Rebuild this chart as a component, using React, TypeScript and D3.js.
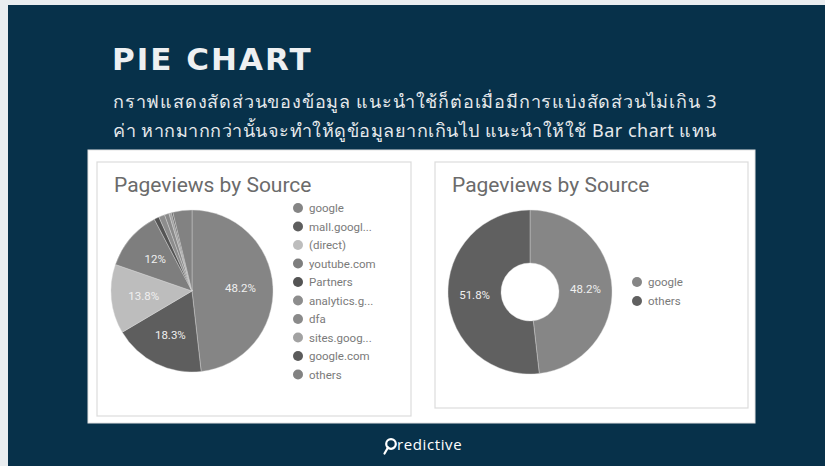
import * as d3 from "d3";

// left pie: all sources
const sources = [
  "google", "mall.googl...", "(direct)", "youtube.com", "Partners",
  "analytics.g...", "dfa", "sites.goog...", "google.com", "others",
];
const sourceShare = [48.2, 18.3, 13.8, 12, 1.0, 1.2, 0.9, 0.5, 0.3, 3.8];
const sourceColors = [
  "#858585", "#5e5e5e", "#bdbdbd", "#7e7e7e", "#545454",
  "#8d8d8d", "#8a8a8a", "#a2a2a2", "#5b5b5b", "#828282",
];

// right donut: google vs the rest
const groups = ["google", "others"];
const groupShare = [48.2, 51.8];
const groupColors = ["#868686", "#606060"];

const titleLines = [
  "กราฟแสดงสัดส่วนของข้อมูล แนะนำใช้ก็ต่อเมื่อมีการแบ่งสัดส่วนไม่เกิน 3",
  "ค่า หากมากกว่านั้นจะทำให้ดูข้อมูลยากเกินไป แนะนำให้ใช้ Bar chart แทน",
];

const W = 825;
const H = 466;
const cardFont = "Roboto, 'Noto Sans', sans-serif";

type Slice = { name: string; value: number; color: string };

function PieCard(props: {
  x: number; y: number; w: number; h: number;
  cx: number; cy: number; r: number; inner: number;
  slices: Slice[]; labelMin: number;
  legendX: number; legendY: number; legendStep: number;
}) {
  const { x, y, w, h, cx, cy, r, inner, slices, labelMin, legendX, legendY, legendStep } = props;
  const pie = d3.pie<Slice>().sort(null).value(d => d.value).startAngle(0).endAngle(2 * Math.PI);
  const arcs = pie(slices);
  const arc = d3.arc<d3.PieArcDatum<Slice>>().innerRadius(inner).outerRadius(r);
  const labelArc = d3.arc<d3.PieArcDatum<Slice>>()
    .innerRadius(inner > 0 ? (inner + r) / 2 : r * 0.6)
    .outerRadius(inner > 0 ? (inner + r) / 2 : r * 0.6);
  const fmt = (v: number) => `${v}%`;

  return (
    <g>
      <rect x={x} y={y} width={w} height={h} fill="#fff" stroke="#dcdcdc" strokeWidth={1.2} />
      <text x={x + 17} y={y + 30} fontFamily={cardFont} fontSize={21} fill="#6b6b6b">
        Pageviews by Source
      </text>
      <g transform={`translate(${cx},${cy})`}>
        {arcs.map((a, i) => (
          <path key={i} d={arc(a) ?? ""} fill={a.data.color} stroke="#d8d8d8" strokeWidth={0.4} />
        ))}
        {arcs.filter(a => a.data.value >= labelMin).map((a, i) => {
          const [lx, ly] = labelArc.centroid(a);
          return (
            <text key={i} x={lx} y={ly} dy="0.35em" textAnchor="middle"
              fontFamily={cardFont} fontSize={11.5} fill="#f0f0f0">
              {fmt(a.data.value)}
            </text>
          );
        })}
      </g>
      {slices.map((s, i) => (
        <g key={s.name} transform={`translate(${legendX},${legendY + i * legendStep})`}>
          <circle r={5} fill={s.color} />
          <text x={11} dy="0.35em" fontFamily={cardFont} fontSize={11.5} fill="#7a7a7a">{s.name}</text>
        </g>
      ))}
    </g>
  );
}

export default function App() {
  const left: Slice[] = sources.map((n, i) => ({ name: n, value: sourceShare[i], color: sourceColors[i] }));
  const right: Slice[] = groups.map((n, i) => ({ name: n, value: groupShare[i], color: groupColors[i] }));

  return (
    <svg width={W} height={H} style={{ position: "absolute", left: 0, top: 0 }}>
      <rect x={0} y={0} width={W} height={H} fill="#e9edf0" />
      <rect x={8} y={5} width={W - 8} height={H - 5} fill="#07314a" />
      <text x={112} y={70} fontFamily="'DejaVu Sans', sans-serif" fontWeight={700}
        fontSize={31} letterSpacing={2} fill="#eef0f2">PIE CHART</text>
      {titleLines.map((t, i) => (
        <text key={i} x={113} y={108 + i * 29} fontFamily="'Noto Sans', 'DejaVu Sans', sans-serif"
          fontSize={18} letterSpacing={i === 0 ? 0.8 : 0.5} fill="#e6e9ec">{t}</text>
      ))}
      <rect x={88} y={150} width={667} height={273} fill="#fff" stroke="#e3e3e3" />
      <PieCard x={97} y={162} w={314} h={254} cx={192} cy={291} r={81} inner={0}
        slices={left} labelMin={10} legendX={298} legendY={208} legendStep={18.5} />
      <PieCard x={435} y={162} w={313} h={246} cx={530} cy={292} r={82} inner={29}
        slices={right} labelMin={10} legendX={637} legendY={282} legendStep={19} />
      <g transform="translate(388,446)">
        <circle cx={3} cy={-2} r={4.8} fill="none" stroke="#fff" strokeWidth={2.2} />
        <line x1={0} y1={1.5} x2={-3.5} y2={7.5} stroke="#fff" strokeWidth={2.2} strokeLinecap="round" />
        <text x={9} y={3.5} fontFamily="'Open Sans', sans-serif" fontSize={15} letterSpacing={0.6} fill="#fff">redictive</text>
      </g>
    </svg>
  );
}
